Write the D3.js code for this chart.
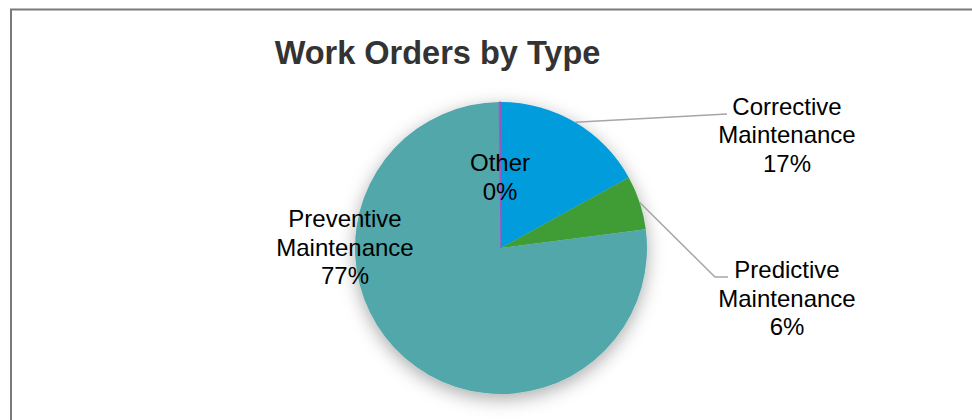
<!DOCTYPE html>
<html>
<head>
<meta charset="utf-8">
<script src="https://cdn.jsdelivr.net/npm/d3@7"></script>
<style>
  html, body { margin: 0; padding: 0; background: #ffffff; }
  svg { display: block; }
  text { font-family: "Liberation Sans", Arial, sans-serif; }
</style>
</head>
<body>
<svg id="chart" width="972" height="420"></svg>
<script>
// Work order counts by maintenance type (share of total)
const categories = ["Corrective Maintenance", "Predictive Maintenance", "Preventive Maintenance", "Other"];
const labelLines = [["Corrective", "Maintenance"], ["Predictive", "Maintenance"], ["Preventive", "Maintenance"], ["Other"]];
const values = [17, 6, 77, 0.2];
const colors = ["#029cdc", "#3f9c35", "#51a7a9", "#9b57c4"];
const title = "Work Orders by Type";

const svg = d3.select("#chart");
const cx = 501, cy = 248, r = 146;

// Outer chart frame (runs past the right and bottom edges)
svg.append("rect")
  .attr("x", 11).attr("y", 9.5)
  .attr("width", 1000).attr("height", 500)
  .attr("fill", "#ffffff")
  .attr("stroke", "#7a7a7a")
  .attr("stroke-width", 2);

// Title
svg.append("text")
  .attr("x", 437.5).attr("y", 63.5)
  .attr("text-anchor", "middle")
  .attr("font-size", 32.5)
  .attr("font-weight", "bold")
  .attr("fill", "#333333")
  .text(title);

// Soft shadow around the pie
const defs = svg.append("defs");
const f = defs.append("filter").attr("id", "pieShadow")
  .attr("x", "-30%").attr("y", "-30%").attr("width", "160%").attr("height", "160%");
f.append("feDropShadow")
  .attr("dx", 0).attr("dy", 5)
  .attr("stdDeviation", 9)
  .attr("flood-color", "#000000")
  .attr("flood-opacity", 0.33);

const total = d3.sum(values);
const pct = d3.format(".0%");
const data = categories.map((c, i) => ({ name: c, value: values[i], color: colors[i], lines: labelLines[i] }));

const pie = d3.pie().sort(null).value(d => d.value);
const arcs = pie(data);
const arc = d3.arc().innerRadius(0).outerRadius(r);

const g = svg.append("g").attr("transform", `translate(${cx},${cy})`);
const slices = g.append("g").attr("filter", "url(#pieShadow)");
slices.selectAll("path")
  .data(arcs)
  .enter().append("path")
  .attr("d", arc)
  .attr("fill", d => d.data.color)
  .attr("stroke", d => d.data.name === "Other" ? d.data.color : "none")
  .attr("stroke-width", d => d.data.name === "Other" ? 1 : 0);

// Label placement (centre x, first baseline) in chart coordinates
const labelPos = {
  "Corrective Maintenance": { x: 787, y: 114.5 },
  "Predictive Maintenance": { x: 787, y: 278 },
  "Preventive Maintenance": { x: 345, y: 227 },
  "Other": { x: 500, y: 171 }
};

function edgePoint(d, frac) {
  const a = d.startAngle + (d.endAngle - d.startAngle) * frac;
  return [cx + r * Math.sin(a), cy - r * Math.cos(a)];
}

// Leader lines for the two small slices on the right
const leader = svg.append("g").attr("fill", "none").attr("stroke", "#a6a6a6").attr("stroke-width", 1.5);
const corr = arcs[0], pred = arcs[1];
leader.append("path").attr("d", d3.line()([edgePoint(corr, 0.5), [727, 114]]));
leader.append("path").attr("d", d3.line()([edgePoint(pred, 0.5), [715, 277], [728, 277]]));

const lineH = 28.5;
const labels = svg.append("g").attr("font-size", 24).attr("fill", "#000000").attr("text-anchor", "middle");
arcs.forEach(d => {
  const p = labelPos[d.data.name];
  const lines = d.data.lines.concat([pct(d.data.value / total)]);
  const t = labels.append("text").attr("x", p.x).attr("y", p.y);
  lines.forEach((s, i) => {
    t.append("tspan").attr("x", p.x).attr("dy", i === 0 ? 0 : lineH).text(s);
  });
});
</script>
</body>
</html>
